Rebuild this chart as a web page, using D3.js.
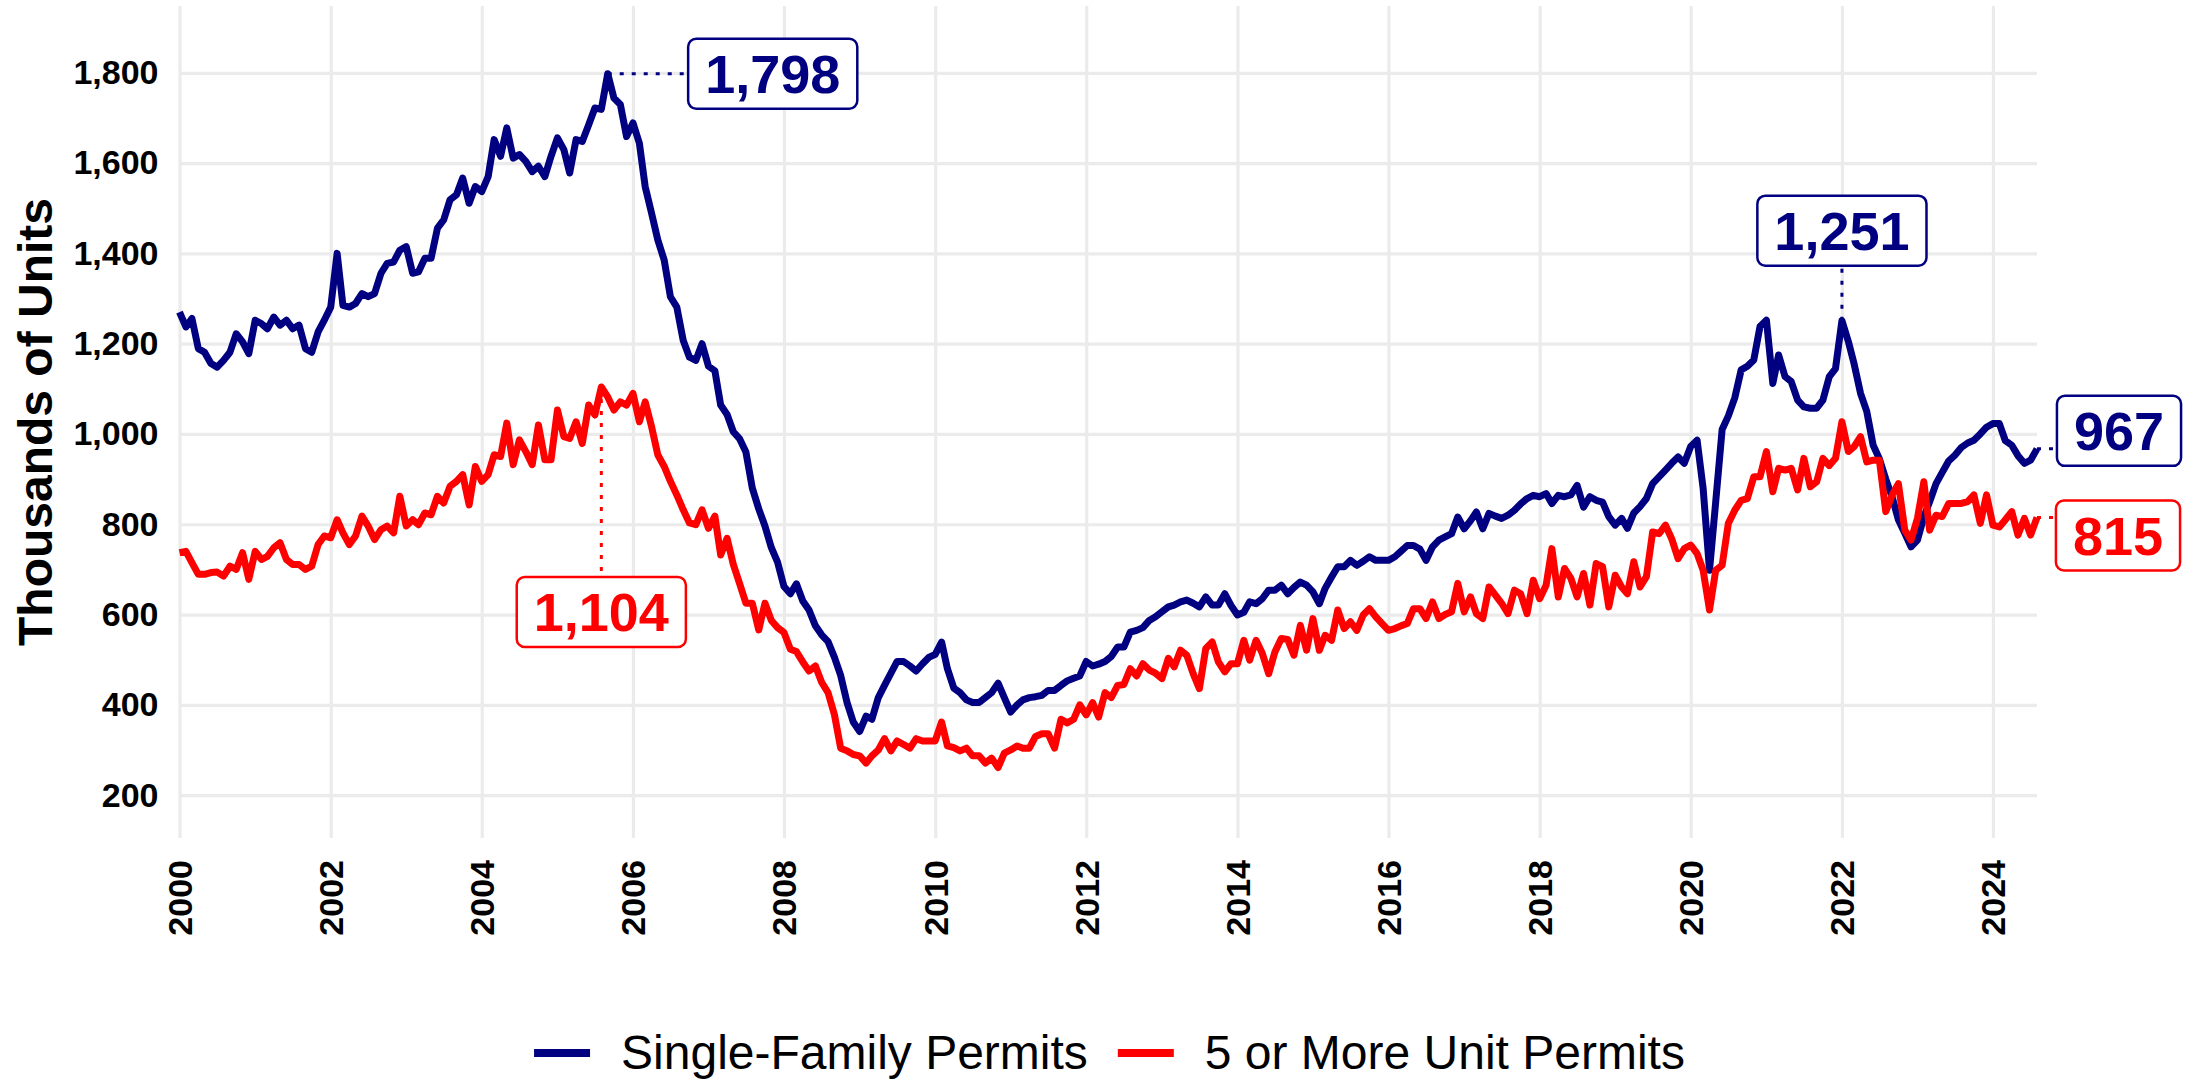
<!DOCTYPE html>
<html>
<head>
<meta charset="utf-8">
<script src="https://cdn.jsdelivr.net/npm/d3@7"></script>
<style>
  body { margin: 0; background: #fff; }
  svg { display: block; font-family: "Liberation Sans", Arial, Helvetica, sans-serif; }
</style>
</head>
<body>
<svg id="chart" width="2195" height="1082"></svg>
<script>
// Building permits, thousands of units, monthly Jan 2000 - Aug 2024
var singleFamily = [
  1270, 1237, 1256, 1189, 1181, 1156, 1148, 1163, 1181, 1222, 1204, 1178,
  1252, 1244, 1233, 1259, 1241, 1252, 1233, 1241, 1189, 1181, 1226, 1252,
  1281, 1400, 1285, 1281, 1289, 1311, 1304, 1311, 1356, 1378, 1381, 1407,
  1415, 1356, 1359, 1389, 1389, 1456, 1474, 1519, 1530, 1567, 1511, 1548,
  1537, 1570, 1652, 1615, 1678, 1611, 1619, 1604, 1581, 1593, 1570, 1615,
  1656, 1630, 1578, 1652, 1648, 1685, 1722, 1719, 1798, 1744, 1730, 1659,
  1689, 1644, 1548, 1489, 1430, 1385, 1304, 1281, 1207, 1170, 1163, 1200,
  1150, 1140, 1064, 1043, 1005, 989, 960, 880, 834, 796, 748, 716,
  662, 646, 668, 630, 610, 575, 555, 540, 505, 465, 405, 362,
  341, 375, 368, 416, 443, 470, 496, 496, 486, 475, 491, 505,
  512, 539, 480, 437, 427, 411, 405, 405, 416, 427, 448, 416,
  384, 400, 411, 416, 418, 421, 432, 432, 443, 453, 459, 464,
  496, 486, 490, 496, 507, 528, 528, 561, 565, 571, 587, 595,
  606, 617, 621, 628, 632, 625, 617, 639, 621, 621, 646, 620,
  599, 605, 628, 624, 635, 654, 654, 665, 646, 660, 672, 665,
  650, 624, 658, 683, 706, 706, 720, 709, 718, 728, 720, 720,
  720, 728, 740, 753, 753, 745, 720, 750, 765, 772, 779, 816,
  790, 808, 827, 790, 824, 818, 813, 820, 831, 845, 857, 864,
  861, 868, 846, 864, 861, 865, 886, 838, 861, 853, 849, 817,
  798, 813, 791, 825, 839, 857, 890, 905, 920, 935, 949, 935,
  972, 986, 880, 698, 850, 1010, 1040, 1080, 1142, 1150, 1164, 1238,
  1252, 1112, 1175, 1127, 1116, 1075, 1060, 1057, 1057, 1075, 1127, 1145,
  1251, 1205, 1155, 1090, 1050, 975, 945, 900, 860, 810, 780, 750,
  765, 816, 850, 890, 915, 940, 953, 970, 980, 986, 1000, 1015,
  1023, 1023, 985, 975, 952, 935, 942, 967
];

var fivePlus = [
  737, 740, 715, 689, 689, 693, 694, 685, 707, 700, 737, 678,
  740, 722, 729, 748, 759, 722, 711, 711, 700, 707, 755, 774,
  770, 810, 781, 755, 774, 818, 796, 766, 788, 796, 781, 862,
  796, 810, 799, 825, 821, 862, 847, 884, 895, 910, 843, 928,
  895, 910, 954, 950, 1024, 932, 987, 961, 932, 1020, 943, 943,
  1053, 994, 990, 1027, 979, 1064, 1042, 1104, 1082, 1053, 1071, 1064,
  1090, 1027, 1071, 1016, 954, 928, 895, 865, 832, 803, 799, 832,
  791, 818, 732, 769, 711, 668, 625, 625, 566, 625, 587, 571,
  560, 523, 518, 495, 475, 486, 450, 427, 378, 304, 298, 290,
  287, 271, 287, 300, 325, 298, 320, 312, 304, 325, 320, 320,
  320, 362, 309, 305, 298, 304, 287, 287, 271, 282, 261, 293,
  300, 309, 304, 304, 330, 336, 336, 304, 368, 360, 368, 400,
  378, 405, 373, 427, 416, 443, 445, 480, 464, 491, 477, 470,
  458, 503, 484, 521, 510, 469, 436, 525, 539, 495, 473, 491,
  491, 543, 499, 543, 514, 469, 517, 547, 545, 510, 576, 521,
  591, 521, 554, 543, 610, 569, 584, 565, 599, 613, 595, 580,
  565, 569, 575, 580, 613, 613, 591, 628, 591, 600, 606, 669,
  606, 639, 602, 591, 661, 643, 625, 602, 654, 646, 602, 676,
  635, 665, 746, 639, 702, 680, 639, 691, 621, 713, 706, 617,
  687, 661, 646, 717, 661, 684, 783, 779, 798, 768, 724, 746,
  754, 735, 698, 610, 698, 709, 802, 831, 853, 857, 905, 905,
  961, 872, 924, 920, 924, 876, 946, 883, 894, 946, 930, 946,
  1027, 961, 972, 994, 938, 942, 942, 828, 865, 890, 787, 765,
  813, 894, 787, 820, 817, 846, 846, 846, 850, 865, 802, 865,
  798, 794, 810, 828, 776, 813, 776, 815
];

var seriesNames = ["Single-Family Permits", "5 or More Unit Permits"];
var seriesColors = ["#000080", "#ff0000"];
var yTicks = [200, 400, 600, 800, 1000, 1200, 1400, 1600, 1800];
var xTickYears = [2000, 2002, 2004, 2006, 2008, 2010, 2012, 2014, 2016, 2018, 2020, 2022, 2024];

// which points get a value label ("YYYY-MM"), box offset in px
var callouts = [
  { series: 0, month: "2005-09", dx: 165, dy: 0 },
  { series: 1, month: "2005-08", dx: 0, dy: 225 },
  { series: 0, month: "2022-01", dx: 0, dy: -90 },
  { series: 0, month: "2024-08", dx: 82, dy: -18 },
  { series: 1, month: "2024-08", dx: 81, dy: 18 }
];

var months = d3.timeMonth.range(new Date(2000, 0, 1), new Date(2024, 8, 1));
var series = [singleFamily, fivePlus];

var plotLeft = 179.5, plotRight = 2037, plotTop = 6, plotBottom = 838;
var svg = d3.select("#chart");

var x = d3.scaleTime()
  .domain([months[0], months[months.length - 1]])
  .range([plotLeft, plotRight]);
var y = d3.scaleLinear()
  .domain([105, 1948])
  .range([plotBottom, plotTop]);

// y gridlines + labels
var yAxis = svg.append("g")
  .attr("transform", "translate(" + plotLeft + ",0)")
  .call(d3.axisLeft(y).tickValues(yTicks).tickSize(-(plotRight - plotLeft)).tickPadding(21)
    .tickFormat(d3.format(",")));
yAxis.select(".domain").remove();
yAxis.selectAll("line").attr("stroke", "#ebebeb").attr("stroke-width", 3.2);
yAxis.selectAll("text")
  .attr("fill", "#000")
  .style("font-size", "34px")
  .style("font-weight", "bold");

// x gridlines + rotated year labels
var xAxis = svg.append("g")
  .attr("transform", "translate(0," + plotBottom + ")")
  .call(d3.axisBottom(x)
    .tickValues(xTickYears.map(function(yr) { return new Date(yr, 0, 1); }))
    .tickSize(-(plotBottom - plotTop))
    .tickFormat(d3.timeFormat("%Y")));
xAxis.select(".domain").remove();
xAxis.selectAll("line").attr("stroke", "#ebebeb").attr("stroke-width", 3.2);
xAxis.selectAll("text")
  .attr("transform", "rotate(-90)")
  .attr("text-anchor", "end")
  .attr("x", -22)
  .attr("y", 0)
  .attr("dy", "0.35em")
  .attr("fill", "#000")
  .style("font-size", "34px")
  .style("font-weight", "bold");

// axis title
svg.append("text")
  .attr("transform", "translate(52," + ((plotTop + plotBottom) / 2) + ") rotate(-90)")
  .attr("text-anchor", "middle")
  .style("font-size", "48px")
  .style("font-weight", "bold")
  .text("Thousands of Units");

var line = d3.line()
  .x(function(d, i) { return x(months[i]); })
  .y(function(d) { return y(d); });

series.forEach(function(vals, s) {
  svg.append("path")
    .datum(vals)
    .attr("fill", "none")
    .attr("stroke", seriesColors[s])
    .attr("stroke-width", 7)
    .attr("stroke-linejoin", "round")
    .attr("d", line);
});

// value labels with dotted leaders
var monthKey = d3.timeFormat("%Y-%m");
callouts.forEach(function(c) {
  var i = months.findIndex(function(m) { return monthKey(m) === c.month; });
  var v = series[c.series][i];
  var px = x(months[i]), py = y(v);
  var cx = px + c.dx, cy = py + c.dy;
  var col = seriesColors[c.series];

  var g = svg.append("g");
  var label = g.append("text")
    .attr("x", cx).attr("y", cy).attr("dy", "0.36em")
    .attr("text-anchor", "middle")
    .attr("fill", col)
    .style("font-size", "54px")
    .style("font-weight", "bold")
    .text(d3.format(",")(v));
  var w = label.node().getComputedTextLength() + 34, h = 70;
  var bx = cx - w / 2, by = cy - h / 2;

  var ex = Math.max(bx, Math.min(px, bx + w));
  var ey = Math.max(by, Math.min(py, by + h));
  g.insert("line", "text")
    .attr("x1", px).attr("y1", py).attr("x2", ex).attr("y2", ey)
    .attr("stroke", col).attr("stroke-width", 3)
    .attr("stroke-dasharray", "4,8");
  g.insert("rect", "text")
    .attr("x", bx).attr("y", by).attr("width", w).attr("height", h)
    .attr("rx", 8)
    .attr("fill", "#fff")
    .attr("stroke", col).attr("stroke-width", 2.5);
});

// legend
var legend = svg.append("g");
var lx = 0;
seriesNames.forEach(function(name, s) {
  var it = legend.append("g").attr("transform", "translate(" + lx + ",0)");
  it.append("line")
    .attr("x1", 0).attr("x2", 56).attr("y1", 0).attr("y2", 0)
    .attr("stroke", seriesColors[s]).attr("stroke-width", 8);
  var t = it.append("text")
    .attr("x", 87).attr("y", 0).attr("dy", "0.34em")
    .style("font-size", "48px")
    .text(name);
  lx += 87 + t.node().getComputedTextLength() + 30;
});
var legendWidth = lx - 30;
legend.attr("transform", "translate(" + (1109.5 - legendWidth / 2) + ",1053)");
</script>
</body>
</html>
